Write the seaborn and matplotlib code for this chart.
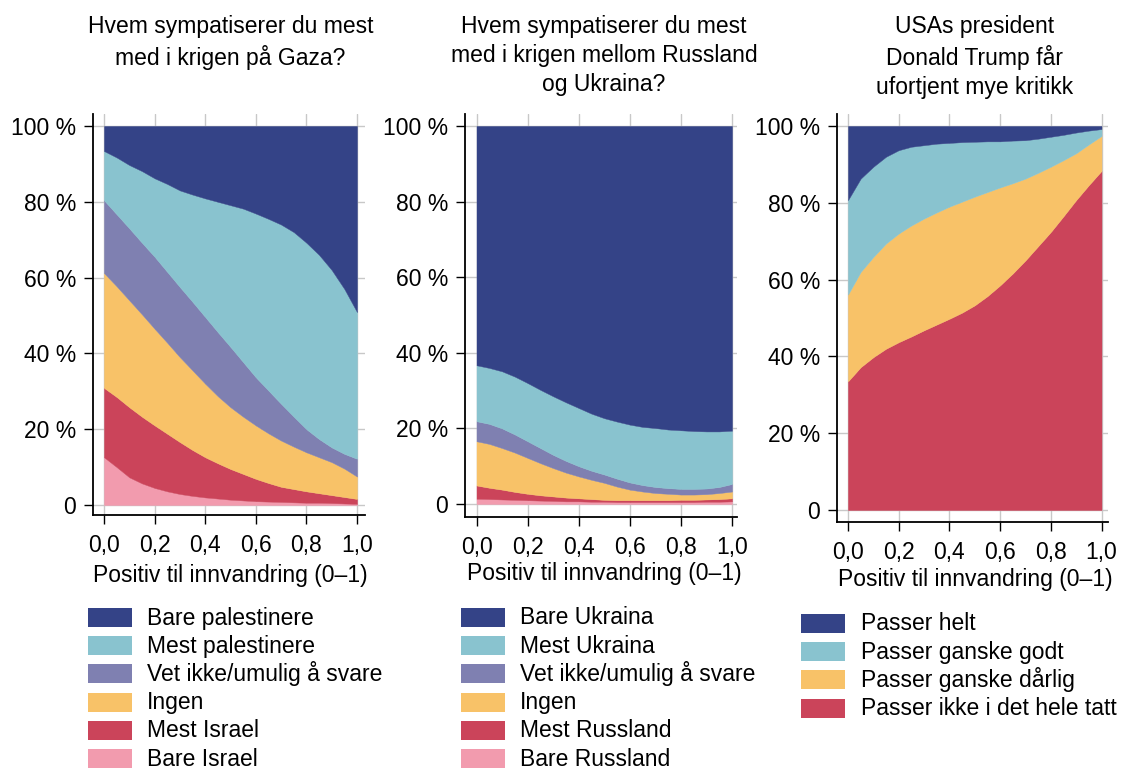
import numpy as np
import matplotlib
matplotlib.use("Agg")
import matplotlib.pyplot as plt
from matplotlib.patches import Rectangle
import seaborn as sns

# ---------------- data ----------------
x_share = [0.0, 0.05, 0.1, 0.15, 0.2, 0.25, 0.3, 0.35, 0.4, 0.45, 0.5,
           0.55, 0.6, 0.65, 0.7, 0.75, 0.8, 0.85, 0.9, 0.95, 1.0]

# Gaza (percent of respondents)
gaza_bare_israel = [12.6, 10.0, 7.3, 5.7, 4.5, 3.6, 2.9, 2.4, 2.0, 1.7, 1.4,
                    1.2, 1.0, 0.9, 0.8, 0.7, 0.6, 0.6, 0.5, 0.4, 0.3]
gaza_mest_israel = [18.3, 18.5, 18.5, 17.6, 16.5, 15.2, 13.7, 12.1, 10.6, 9.3, 8.1,
                    7.0, 5.9, 4.9, 4.0, 3.5, 3.0, 2.5, 2.1, 1.7, 1.3]
gaza_ingen = [30.3, 29.2, 28.2, 27.0, 25.5, 24.0, 22.4, 21.0, 19.4, 17.7, 16.3,
              15.1, 14.1, 13.1, 12.2, 11.2, 10.3, 9.5, 8.7, 7.5, 5.9]
gaza_vet_ikke = [19.2, 19.0, 19.0, 18.9, 19.0, 18.7, 18.5, 18.1, 17.6, 16.9, 15.9,
                 14.4, 12.7, 11.3, 9.7, 7.9, 6.1, 4.8, 3.9, 3.9, 4.7]
gaza_mest_pal = [13.0, 15.0, 16.7, 18.9, 20.7, 23.2, 25.5, 28.3, 31.3, 34.4, 37.4,
                 40.5, 43.2, 45.3, 47.3, 48.7, 49.2, 48.6, 46.8, 43.5, 38.7]
gaza_bare_pal = [6.6, 8.3, 10.3, 11.9, 13.8, 15.3, 17.0, 18.1, 19.1, 20.0, 20.9,
                 21.8, 23.1, 24.5, 26.0, 28.0, 30.8, 34.0, 38.0, 43.0, 49.1]
gaza_labels = ["Bare Israel", "Mest Israel", "Ingen", "Vet ikke/umulig å svare",
               "Mest palestinere", "Bare palestinere"]

# Russland / Ukraina
ukr_bare_russland = [1.4, 1.3, 1.2, 1.1, 1.0, 0.9, 0.8, 0.7, 0.7, 0.6, 0.6,
                     0.5, 0.5, 0.5, 0.5, 0.5, 0.5, 0.5, 0.6, 0.6, 0.7]
ukr_mest_russland = [3.5, 3.0, 2.6, 2.1, 1.7, 1.4, 1.2, 1.0, 0.8, 0.7, 0.5,
                     0.5, 0.5, 0.5, 0.5, 0.5, 0.6, 0.6, 0.6, 0.7, 0.8]
ukr_ingen = [11.7, 11.6, 11.0, 10.4, 9.5, 8.5, 7.5, 6.6, 5.8, 5.1, 4.5,
             3.6, 2.8, 2.3, 1.9, 1.7, 1.4, 1.4, 1.4, 1.6, 1.8]
ukr_vet_ikke = [5.3, 5.3, 5.2, 4.8, 4.4, 4.0, 3.5, 3.1, 2.7, 2.4, 2.2,
                2.1, 1.9, 1.7, 1.6, 1.5, 1.5, 1.5, 1.5, 1.6, 2.0]
ukr_mest_ukraina = [14.8, 14.8, 15.1, 15.3, 15.4, 15.4, 15.5, 15.5, 15.4, 15.1, 14.9,
                    15.1, 15.3, 15.4, 15.6, 15.5, 15.5, 15.3, 15.1, 14.7, 14.1]
ukr_bare_ukraina = [63.3, 64.0, 64.9, 66.3, 68.0, 69.8, 71.5, 73.1, 74.6, 76.1, 77.3,
                    78.2, 79.0, 79.6, 79.9, 80.3, 80.5, 80.7, 80.8, 80.8, 80.6]
ukr_labels = ["Bare Russland", "Mest Russland", "Ingen", "Vet ikke/umulig å svare",
              "Mest Ukraina", "Bare Ukraina"]

# Trump
trump_ikke = [33.5, 37.2, 39.8, 42.0, 43.7, 45.2, 46.8, 48.3, 49.8, 51.4, 53.3,
              55.7, 58.5, 61.6, 65.0, 68.7, 72.4, 76.5, 80.7, 84.6, 88.3]
trump_darlig = [22.6, 24.8, 26.1, 27.4, 28.3, 28.9, 29.1, 29.2, 29.2, 28.9, 28.3,
                27.1, 25.5, 23.5, 21.3, 19.1, 17.0, 14.6, 12.2, 10.6, 9.1]
trump_godt = [24.6, 24.3, 23.5, 22.6, 21.7, 20.5, 19.1, 17.9, 16.6, 15.5, 14.3,
              13.2, 12.0, 11.1, 10.0, 8.9, 7.8, 6.6, 5.4, 3.6, 1.8]
trump_helt = [19.3, 13.7, 10.6, 8.0, 6.3, 5.4, 5.0, 4.6, 4.4, 4.2, 4.1,
              4.0, 4.0, 3.8, 3.7, 3.3, 2.8, 2.3, 1.7, 1.2, 0.8]
trump_labels = ["Passer ikke i det hele tatt", "Passer ganske dårlig",
                "Passer ganske godt", "Passer helt"]

titles = ["Hvem sympatiserer du mest\nmed i krigen på Gaza?",
          "Hvem sympatiserer du mest\nmed i krigen mellom Russland\nog Ukraina?",
          "USAs president\nDonald Trump får\nufortjent mye kritikk"]
xlabel = "Positiv til innvandring (0–1)"
xticks = [0.0, 0.2, 0.4, 0.6, 0.8, 1.0]
xtick_labels = ["0,0", "0,2", "0,4", "0,6", "0,8", "1,0"]
yticks = [0, 20, 40, 60, 80, 100]
ytick_labels = ["0", "20 %", "40 %", "60 %", "80 %", "100 %"]

# ---------------- style ----------------
sns.set_theme(style="ticks")
plt.rcParams["font.family"] = ["Liberation Sans", "DejaVu Sans"]

NAVY = "#344387"
TEAL = "#89C3CF"
PURPLE = "#7F80B1"
YELLOW = "#F8C268"
RED = "#CB445A"
PINK = "#F29BAE"

six_colors = [PINK, RED, YELLOW, PURPLE, TEAL, NAVY]
four_colors = [RED, YELLOW, TEAL, NAVY]

W, H = 1131, 771
fig = plt.figure(figsize=(W / 100, H / 100), dpi=100)
FS = 16.5


def fx(px):
    return px / W


def fy(py):
    return 1 - py / H


def px_axes(l, t, r, b, x0, x1, y100, y0):
    ax = fig.add_axes([l / W, 1 - b / H, (r - l) / W, (b - t) / H])
    ax.set_xlim((l - x0) / (x1 - x0), 1 + (r - x1) / (x1 - x0))
    ax.set_ylim(-(b - y0) / (y0 - y100) * 100, 100 + (y100 - t) / (y0 - y100) * 100)
    return ax


panels = [
    dict(box=(93, 114, 365, 515, 104, 357, 126, 505),
         series=[gaza_bare_israel, gaza_mest_israel, gaza_ingen, gaza_vet_ikke,
                 gaza_mest_pal, gaza_bare_pal],
         labels=gaza_labels, colors=six_colors,
         title_xy=(230.5, 15), xlabel_xy=(230.5, 582), leg=(88, 147, 608)),
    dict(box=(465, 114, 737, 517, 476.5, 732, 126, 504),
         series=[ukr_bare_russland, ukr_mest_russland, ukr_ingen, ukr_vet_ikke,
                 ukr_mest_ukraina, ukr_bare_ukraina],
         labels=ukr_labels, colors=six_colors,
         title_xy=(604, 15), xlabel_xy=(604, 580), leg=(461, 520, 608)),
    dict(box=(837, 114, 1108, 522, 848, 1101.5, 126, 510),
         series=[trump_ikke, trump_darlig, trump_godt, trump_helt],
         labels=trump_labels, colors=four_colors,
         title_xy=(975, 15), xlabel_xy=(975, 586), leg=(801, 861, 614)),
]

PATCH_W, PATCH_H, PITCH = 44, 19, 28.2

for i, p in enumerate(panels):
    ax = px_axes(*p["box"])
    ax.set_axisbelow(True)
    ax.grid(True, color="#c8c8c8", linewidth=1.0)
    ax.stackplot(x_share, *p["series"], colors=p["colors"], linewidth=0.3,
                 edgecolor="face", zorder=2)
    ax.set_xticks(xticks)
    ax.set_xticklabels(xtick_labels)
    ax.set_yticks(yticks)
    ax.set_yticklabels(ytick_labels)
    ax.tick_params(axis="both", labelsize=FS, colors="black", length=6.5,
                   width=1.0, direction="out")
    ax.tick_params(axis="y", pad=5.5)
    ax.tick_params(axis="x", pad=7.5)
    for s in ("top", "right"):
        ax.spines[s].set_visible(False)
    for s in ("left", "bottom"):
        ax.spines[s].set_color("black")
        ax.spines[s].set_linewidth(1.3)

    tx, ty = p["title_xy"]
    fig.text(fx(tx), fy(ty), titles[i], ha="center", va="top",
             fontsize=FS, linespacing=1.33, color="black")
    lx, ly = p["xlabel_xy"]
    fig.text(fx(lx), fy(ly), xlabel, ha="center", va="baseline",
             fontsize=FS, color="black")

    # legend, top entry = top of the stack
    px0, tx0, top0 = p["leg"]
    entries = list(zip(p["labels"], p["colors"]))[::-1]
    for k, (lab, col) in enumerate(entries):
        ptop = top0 + k * PITCH
        fig.patches.append(Rectangle((fx(px0), fy(ptop + PATCH_H)),
                                     PATCH_W / W, PATCH_H / H,
                                     transform=fig.transFigure,
                                     facecolor=col, edgecolor="none"))
        fig.text(fx(tx0), fy(ptop + PATCH_H / 2 + 7), lab, ha="left",
                 va="baseline", fontsize=FS, color="black")

fig.savefig("out.png", dpi=100)
